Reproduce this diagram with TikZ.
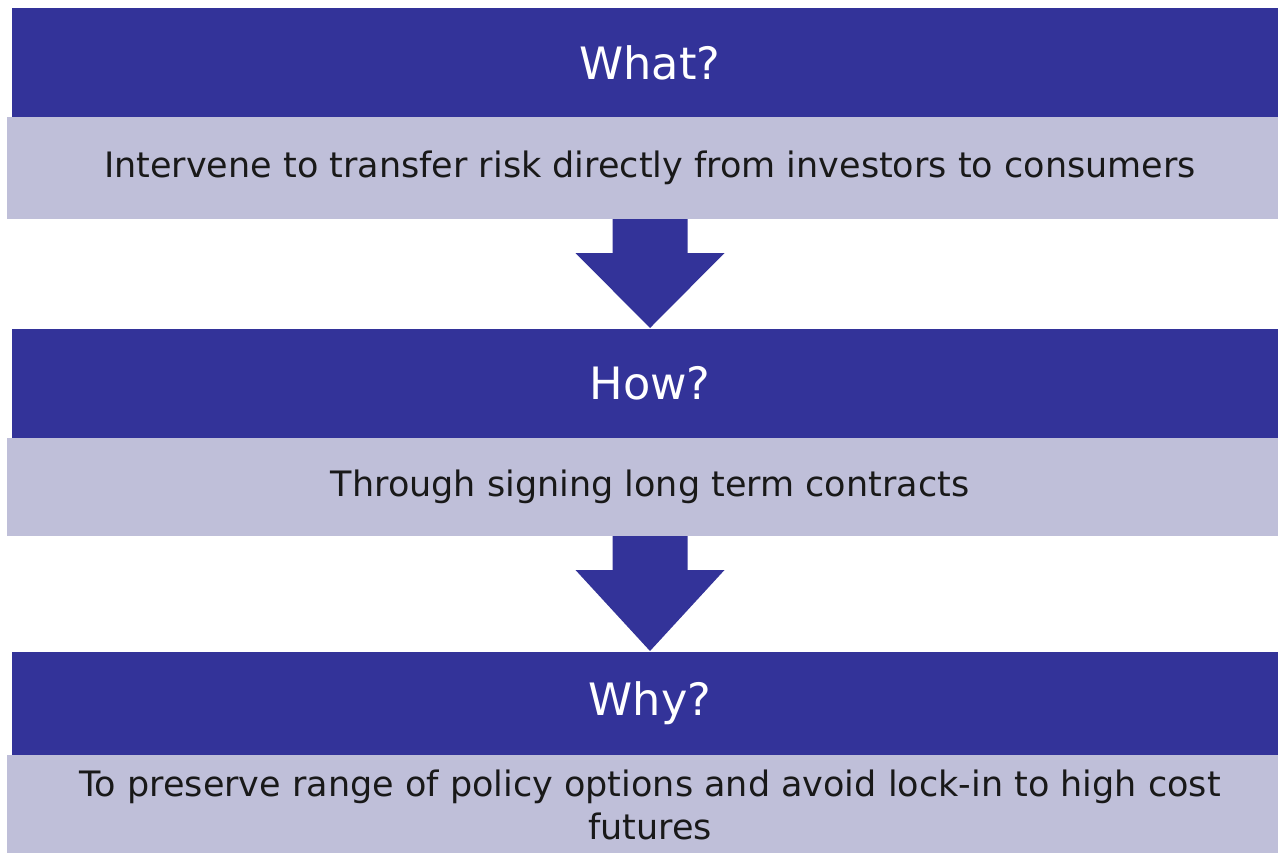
\documentclass[tikz,border=0pt]{standalone}
\usepackage{fontspec}
\setmainfont{DejaVu Sans}
\usetikzlibrary{positioning,calc}
\definecolor{headblue}{RGB}{51,51,153}
\definecolor{bodylilac}{RGB}{191,191,217}

\begin{document}
\begin{tikzpicture}[x=0.5pt,y=-0.5pt,node distance=55pt,
    head node/.style={fill=headblue,text=white,minimum width=638pt,minimum height=54.5pt,inner sep=0pt,outer sep=0pt,font=\fontsize{22.3}{26}\selectfont},
    body node/.style={fill=bodylilac,text=black!90,minimum width=643pt,minimum height=51pt,inner sep=0pt,outer sep=0pt,align=center,font=\fontsize{17.5}{21.5}\selectfont},
    block arrow/.style={fill=headblue}]
    \useasboundingbox (0,0) rectangle (1278,852);

    \node[head node] (What) at (650,62.5) {What?};
    \node[body node] (WhatText) [below=0pt of What] {Intervene to transfer risk directly from investors to consumers};

    \node[head node] (How) [below=55pt of WhatText] {How?};
    \node[body node,minimum height=49pt] (HowText) [below=0pt of How] {Through signing long term contracts};

    \node[head node,minimum height=51.5pt] (Why) [below=58pt of HowText] {Why?};
    \node[body node,minimum height=50pt] (WhyText) [below=0pt of Why] {To preserve range of policy options and avoid lock-in to high cost\\futures};

    \foreach \from/\to in {WhatText/How,HowText/Why}
        \path[block arrow] ($(\from.south)+(-37.5,0)$) -- ($(\from.south)+(-37.5,34)$) -- ($(\from.south)+(-74.5,34)$)
            -- ($(\to.north)+(0,-1)$) -- ($(\from.south)+(74.5,34)$) -- ($(\from.south)+(37.5,34)$)
            -- ($(\from.south)+(37.5,0)$) -- cycle;
\end{tikzpicture}
\end{document}
